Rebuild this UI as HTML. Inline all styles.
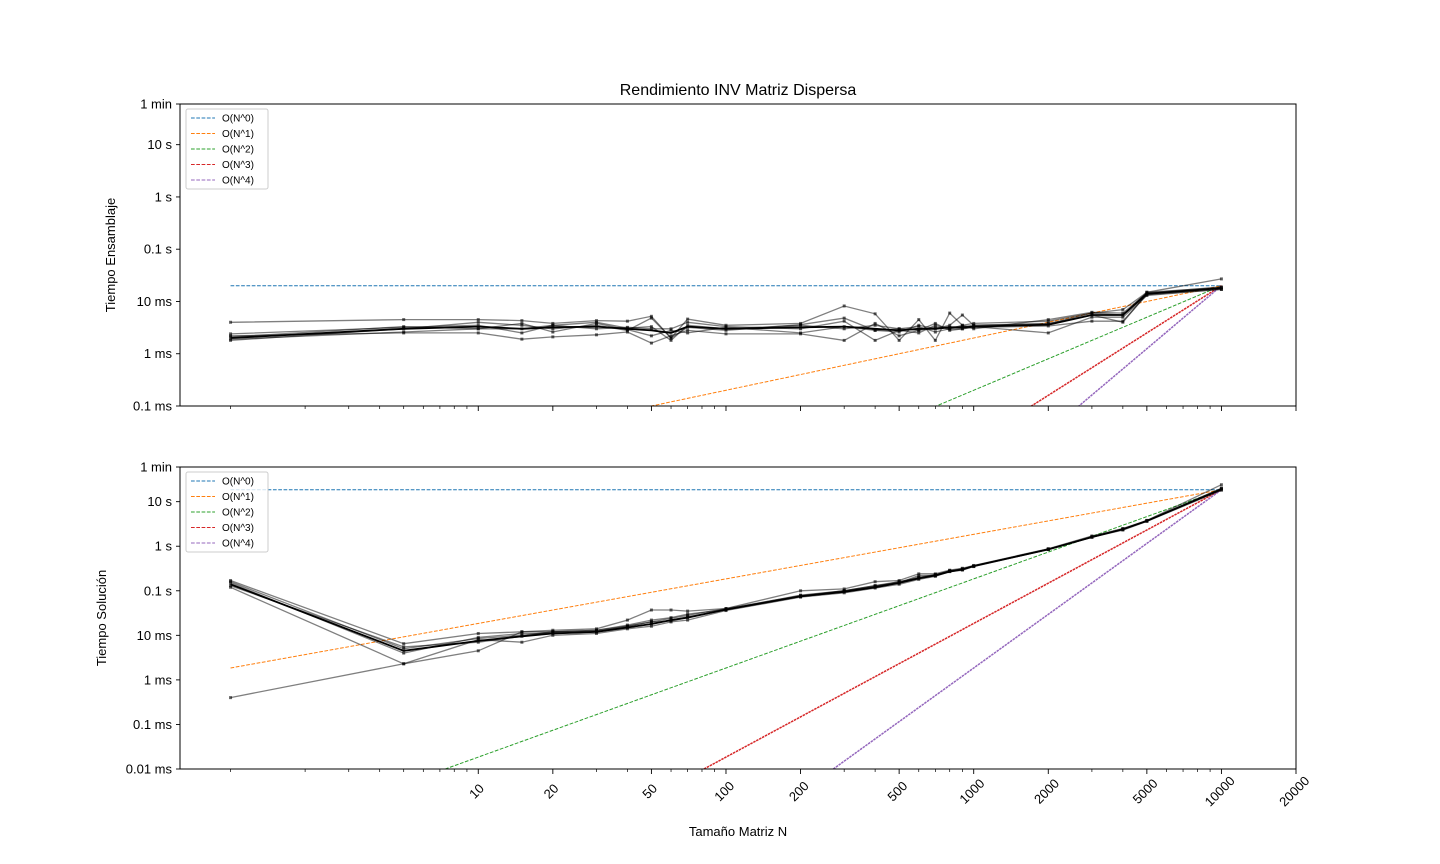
<!DOCTYPE html>
<html><head><meta charset="utf-8">
<style>
html,body{margin:0;padding:0;background:#fff;width:1440px;height:864px;overflow:hidden;position:relative;}
svg{display:block;position:absolute;left:0;top:0;font-family:"Liberation Sans","DejaVu Sans",sans-serif;}
</style></head>
<body>
<svg id="chart" width="1440" height="864" viewBox="0 0 1440 864" xmlns="http://www.w3.org/2000/svg">
<text x="738" y="95" font-size="16" text-anchor="middle">Rendimiento INV Matriz Dispersa</text>
<text transform="translate(115,255) rotate(-90)" font-size="13" text-anchor="middle">Tiempo Ensamblaje</text>
<text transform="translate(106,618) rotate(-90)" font-size="13" text-anchor="middle">Tiempo Solución</text>
<text x="738" y="836" font-size="13" text-anchor="middle">Tamaño Matriz N</text>
<g id="top"></g>
<g id="bot"></g>
</svg>
<script>
const sizes = [1,5,10,15,20,30,40,50,60,70,100,200,300,400,500,600,700,800,900,1000,2000,3000,4000,5000,10000];
// Assembly times (ms)
const asmRun1 = [4.0,4.5,4.5,4.3,3.8,4.3,4.2,5.2,2.0,4.6,3.5,3.8,8.2,5.8,1.8,4.5,1.8,6,3.5,3.8,4.2,6,7,15,27];
const asmRun2 = [2.2,2.5,2.5,1.9,2.1,2.3,2.6,1.6,2.2,2.8,2.4,2.4,1.8,3.8,2.2,2.8,3.8,2.8,3.0,3.3,2.5,5,5,13,17];
const asmRun3 = [1.8,3.0,4.0,3.5,3.0,3.5,2.8,4.8,2.0,3.2,2.8,3.6,4.8,2.8,2.6,3.5,3.0,3.5,5.5,3.5,3.8,5.5,4.0,14,18];
const asmRun4 = [2.4,3.2,3.5,2.5,3.5,3.0,3.2,3.0,3.0,4.0,3.3,3.0,4.2,1.8,2.8,2.5,3.5,3.0,3.5,3.0,4.5,6.2,6,14.5,19];
const asmRun5 = [1.9,2.6,3.0,3.8,2.6,3.8,2.9,2.2,2.8,2.5,3.2,2.5,3.3,2.8,3.0,3.3,2.6,3.0,3.0,3.2,3.4,4.2,4.2,13.5,17];
const asmRun6 = [2.1,3.3,3.0,3.0,3.5,4.0,3.1,3.3,1.8,3.5,3.0,3.5,3.0,3.5,3.0,2.8,3.2,3.2,3.3,3.5,3.7,6,5.5,15,18.5];
const asmMean = [2.0,3.0,3.3,3.0,3.2,3.3,3.0,2.8,2.5,3.3,3.0,3.2,3.3,3.0,2.8,3.0,3.0,3.2,3.2,3.3,3.6,5.5,5.5,14,18];
// Solution times (s)
const solRun1 = [0.17,0.0065,0.011,0.012,0.013,0.014,0.022,0.037,0.037,0.035,0.04,0.1,0.11,0.16,0.17,0.24,0.24,0.29,0.32,0.37,0.88,1.7,2.5,3.8,24];
const solRun2 = [0.12,0.0023,0.0045,0.012,0.012,0.013,0.017,0.022,0.025,0.03,0.038,0.08,0.1,0.13,0.16,0.2,0.23,0.28,0.31,0.36,0.86,1.65,2.4,3.7,20];
const solRun3 = [0.0004,0.0023,0.008,0.007,0.01,0.011,0.014,0.016,0.02,0.022,0.036,0.072,0.09,0.115,0.14,0.18,0.21,0.27,0.29,0.35,0.84,1.6,2.3,3.6,18];
const solRun4 = [0.16,0.005,0.0085,0.01,0.012,0.013,0.016,0.02,0.024,0.028,0.04,0.078,0.1,0.13,0.15,0.22,0.22,0.28,0.3,0.36,0.85,1.6,2.4,3.7,19];
const solRun5 = [0.15,0.004,0.009,0.011,0.011,0.012,0.015,0.018,0.022,0.026,0.037,0.074,0.095,0.12,0.15,0.2,0.22,0.27,0.3,0.35,0.85,1.6,2.4,3.7,19];
const solRun6 = [0.13,0.0055,0.007,0.0095,0.012,0.012,0.016,0.02,0.021,0.025,0.038,0.075,0.1,0.125,0.16,0.19,0.23,0.28,0.31,0.36,0.86,1.6,2.45,3.75,20];
const solMean = [0.14,0.0045,0.0075,0.0095,0.011,0.012,0.015,0.018,0.022,0.025,0.038,0.075,0.095,0.12,0.15,0.19,0.22,0.27,0.3,0.36,0.85,1.6,2.4,3.7,19];
const refOrders = [0,1,2,3,4];
const refLabels = ["O(N^0)","O(N^1)","O(N^2)","O(N^3)","O(N^4)"];
const refColors = ["#1f77b4","#ff7f0e","#2ca02c","#d62728","#9467bd"];
const topRefTime = 0.02;   // seconds at N=10000
const botRefTime = 18.5;   // seconds at N=10000
const xTickVals = [10,20,50,100,200,500,1000,2000,5000,10000,20000];
const topYTicks = [60,10,1,0.1,0.01,0.001,0.0001];
const topYLabels = ["1 min","10 s","1 s","0.1 s","10 ms","1 ms","0.1 ms"];
const botYTicks = [60,10,1,0.1,0.01,0.001,0.0001,0.00001];
const botYLabels = ["1 min","10 s","1 s","0.1 s","10 ms","1 ms","0.1 ms","0.01 ms"];

const NS = "http://www.w3.org/2000/svg";
const X0 = 180, X1 = 1296;
const xLogMin = 1 - 298/247.5, xLogMax = Math.log10(20000);
function xs(n){ return X0 + (Math.log10(n) - xLogMin)/(xLogMax - xLogMin)*(X1-X0); }
function mk(tag, attrs, parent){ const e=document.createElementNS(NS,tag); for(const k in attrs) e.setAttribute(k,attrs[k]); parent.appendChild(e); return e; }

function panel(g, yTop, yBot, yMinLog, yMaxLog, runs, mean, refT, yTicks, yLabels, showXLabels, pname){
  const ys = v => yTop + (yMaxLog - Math.log10(v))/(yMaxLog - yMinLog)*(yBot-yTop);
  const clipId = 'clip-' + pname;
  const defs = mk('defs',{},g);
  const cp = mk('clipPath',{id:clipId},defs);
  mk('rect',{x:X0,y:yTop,width:X1-X0,height:yBot-yTop},cp);
  const plot = mk('g',{'clip-path':'url(#'+clipId+')'},g);
  refOrders.forEach((k,i)=>{
    const nA = sizes[0], nB = sizes[sizes.length-1];
    const tA = refT*Math.pow(nA/nB,k);
    const l = mk('line',{x1:xs(nA),y1:ys(tA),x2:xs(nB),y2:ys(refT),stroke:refColors[i],'stroke-width':k>=3?1.5:1,'stroke-dasharray':k>=3?'2.5,0.8':'3.7,1.6'},plot);
    
    
  });
  runs.forEach((r,ri)=>{
    const pts = r.map((v,i)=>xs(sizes[i]).toFixed(1)+','+ys(v).toFixed(1)).join(' ');
    const pl = mk('polyline',{points:pts,fill:'none',stroke:'rgba(0,0,0,0.5)','stroke-width':1.3},plot);
    
    
    r.forEach((v,i)=>{
      const c = mk('rect',{x:xs(sizes[i])-1.5,y:ys(v)-1.5,width:3,height:3,fill:'rgba(0,0,0,0.6)'},plot);
      
      
    });
  });
  const mp = mean.map((v,i)=>xs(sizes[i]).toFixed(1)+','+ys(v).toFixed(1)).join(' ');
  const ml = mk('polyline',{points:mp,fill:'none',stroke:'#000','stroke-width':1.8},plot);
  
  
  const fr = mk('rect',{x:X0,y:yTop,width:X1-X0,height:yBot-yTop,fill:'none',stroke:'#000','stroke-width':1},g);
  
  
  for(let d=0; d<=4; d++){
    for(let m=1; m<=9; m++){
      const v = m*Math.pow(10,d);
      if(v>20000) continue;
      const x = xs(v);
      if(x<X0) continue;
      const major = xTickVals.indexOf(v)>=0;
      mk('line',{x1:x,y1:yBot,x2:x,y2:yBot+(major?5:3),stroke:'#000','stroke-width':major?0.9:0.7},g);
    }
  }
  if(showXLabels){
    xTickVals.forEach(v=>{
      const x = xs(v);
      const t = mk('text',{transform:'translate('+(x-1)+',792) rotate(-45)','font-size':13,'text-anchor':'middle','dominant-baseline':'middle'},g);
      t.textContent = String(v);
      
      
    });
  }
  yTicks.forEach((v,i)=>{
    const y = ys(v);
    mk('line',{x1:X0-4,y1:y,x2:X0,y2:y,stroke:'#000','stroke-width':0.9},g);
    const t = mk('text',{x:X0-8,y:y+4.5,'font-size':13,'text-anchor':'end'},g);
    t.textContent = yLabels[i];
    
    
  });
  const lg = mk('g',{},g);
  
  
  mk('rect',{x:186,y:yTop+5,width:82,height:80,rx:2,fill:'rgba(255,255,255,0.8)',stroke:'#ccc','stroke-width':1},lg);
  refLabels.forEach((lab,i)=>{
    const y = yTop+14+i*15.5;
    mk('line',{x1:191,y1:y,x2:215,y2:y,stroke:refColors[i],'stroke-width':1,'stroke-dasharray':'3.7,1.6'},lg);
    const t = mk('text',{x:222,y:y+3.5,'font-size':10},lg);
    t.textContent = lab;
    
    
  });
}
const topRuns = [asmRun1,asmRun2,asmRun3,asmRun4,asmRun5,asmRun6].map(r=>r.map(v=>v/1000));
const topMean = asmMean.map(v=>v/1000);
panel(document.getElementById('top'),104,406,-4,Math.log10(60),topRuns,topMean,topRefTime,topYTicks,topYLabels,false,'top');
panel(document.getElementById('bot'),467,769,-5,Math.log10(60),[solRun1,solRun2,solRun3,solRun4,solRun5,solRun6],solMean,botRefTime,botYTicks,botYLabels,true,'bottom');
</script>
</body></html>
